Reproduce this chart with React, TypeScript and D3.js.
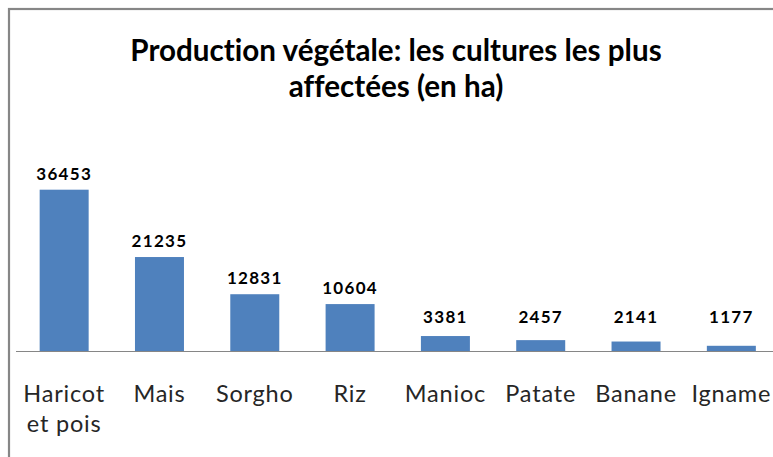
import React from "react";
import * as d3 from "d3";

const categories: string[][] = [
  ["Haricot", "et pois"],
  ["Mais"],
  ["Sorgho"],
  ["Riz"],
  ["Manioc"],
  ["Patate"],
  ["Banane"],
  ["Igname"],
];
const values: number[] = [36453, 21235, 12831, 10604, 3381, 2457, 2141, 1177];
const titleLines: string[] = [
  "Production végétale: les cultures les plus",
  "affectées (en ha)",
];

const W = 773;
const H = 457;
const baseY = 351;

export default function App() {
  const keys = categories.map((c) => c.join(" "));
  const x = d3
    .scaleBand<string>()
    .domain(keys)
    .range([16.5, 779])
    .paddingInner(0.486)
    .paddingOuter(0.243);
  const y = d3.scaleLinear().domain([0, 40000]).range([baseY, 174]);
  const labelFont = "Lato, 'Open Sans', sans-serif";
  const noLig = { fontVariantLigatures: "none" as const };

  return (
    <div style={{ position: "fixed", left: 0, top: 0 }}>
      <svg width={W} height={H} style={{ display: "block", background: "#fff" }}>
        <rect x={9} y={9} width={W + 40} height={H + 40} fill="#fff" stroke="#868686" strokeWidth={2.2} />
        {titleLines.map((t, i) => (
          <text
            key={t}
            x={396}
            y={61 + i * 36}
            textAnchor="middle"
            fontFamily={labelFont}
            fontWeight={700}
            fontSize={29.6}
            fill="#000"
            style={noLig}
          >
            {t}
          </text>
        ))}
        {values.map((v, i) => (
          <rect
            key={keys[i]}
            x={x(keys[i])}
            y={y(v)}
            width={x.bandwidth()}
            height={baseY - y(v)}
            fill="#4F81BD"
          />
        ))}
        <line x1={16} x2={W} y1={baseY + 0.5} y2={baseY + 0.5} stroke="#868686" strokeWidth={1} />
        {values.map((v, i) => (
          <text
            key={"v" + i}
            x={(x(keys[i]) as number) + x.bandwidth() / 2}
            y={Math.min(y(v) - 10, 323)}
            textAnchor="middle"
            fontFamily={labelFont}
            fontWeight={700}
            fontSize={17}
            letterSpacing={1.3}
            fill="#000"
          >
            {d3.format("d")(v)}
          </text>
        ))}
        {categories.map((lines, i) =>
          lines.map((ln, j) => (
            <text
              key={"c" + i + "-" + j}
              x={(x(keys[i]) as number) + x.bandwidth() / 2}
              y={402 + j * 30}
              textAnchor="middle"
              fontFamily={labelFont}
              fontSize={23.5}
              letterSpacing={0.8}
              fill="#262626"
              style={noLig}
            >
              {ln}
            </text>
          ))
        )}
      </svg>
    </div>
  );
}
